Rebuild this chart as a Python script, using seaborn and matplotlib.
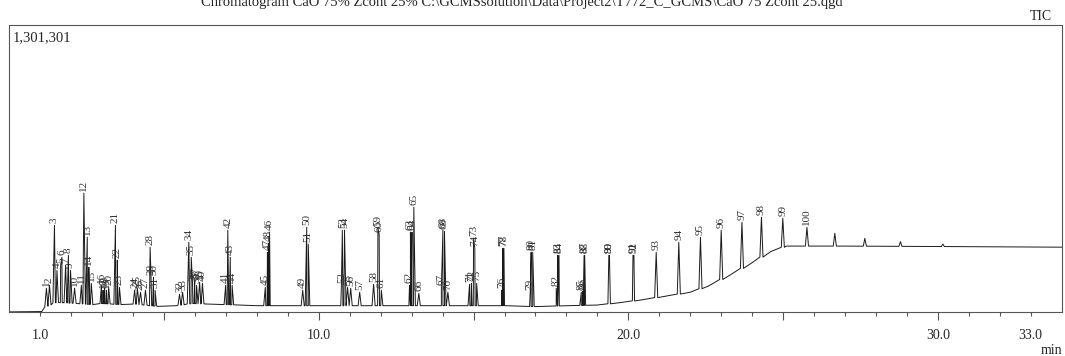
import numpy as np
import pandas as pd
import seaborn as sns
import matplotlib.pyplot as plt

# peak table (retention time in min, intensity in counts)
peak_label = [str(i) for i in range(1, 101)]
peak_time = [1.20, 1.30, 1.46, 1.54, 1.66, 1.70, 1.82, 1.91, 1.98, 2.11,
             2.33, 2.41, 2.52, 2.57, 2.65, 2.98, 3.03, 3.08, 3.14, 3.21,
             3.43, 3.49, 3.56, 4.05, 4.14, 4.24, 4.40, 4.55, 4.58, 4.66,
             4.71, 5.50, 5.60, 5.80, 5.88, 5.92, 5.99, 6.05, 6.15, 6.24,
             6.99, 7.06, 7.14, 7.20, 8.27, 8.41, 8.34, 8.38, 9.48, 9.61,
             9.66, 10.73, 10.76, 10.83, 10.93, 11.03, 11.32, 11.77, 11.91, 11.95,
             12.02, 12.93, 12.96, 13.01, 13.07, 13.23, 13.96, 14.01, 14.06, 14.17,
             14.87, 14.93, 15.00, 15.04, 15.10, 15.91, 15.95, 15.98, 16.83, 16.86,
             16.91, 17.67, 17.72, 17.76, 18.48, 18.53, 18.57, 18.59, 19.37, 19.39,
             20.15, 20.18, 20.90, 21.63, 22.33, 23.00, 23.67, 24.30, 24.99, 25.77]
peak_height = [109000, 122000, 394000, 190000, 213000, 249000, 213000, 258000, 190000, 109000,
               122000, 540000, 340000, 204000, 131000, 122000, 100000, 109000, 100000, 113000,
               394000, 236000, 113000, 100000, 109000, 91000, 100000, 295000, 159000, 159000,
               100000, 82000, 91000, 317000, 249000, 131000, 145000, 122000, 136000, 131000,
               122000, 372000, 249000, 122000, 113000, 363000, 272000, 313000, 100000, 385000,
               308000, 122000, 372000, 372000, 113000, 109000, 91000, 127000, 381000, 354000,
               100000, 122000, 363000, 363000, 476000, 86000, 113000, 372000, 367000, 91000,
               127000, 131000, 336000, 290000, 131000, 100000, 290000, 290000, 91000, 272000,
               272000, 109000, 258000, 258000, 91000, 95000, 258000, 258000, 258000, 258000,
               258000, 258000, 272000, 317000, 340000, 372000, 408000, 431000, 426000, 385000]

# small unlabelled peaks on the late plateau
extra_time = [26.67, 27.64, 28.79, 30.16]
extra_height = [358000, 335000, 320000, 309000]

# baseline under the peaks
base_time = [0.0, 1.05, 1.15, 1.5, 2.2, 2.7, 3.0, 3.6, 4.0, 4.8, 5.4, 5.9, 6.3, 7.0, 8.0,
             9.0, 10.0, 11.0, 12.0, 13.0, 14.0, 15.0, 16.0, 17.0, 18.0, 19.0, 19.8, 20.5,
             21.2, 22.0, 22.6, 23.3, 24.0, 24.6, 25.1, 27.0, 30.0, 34.0]
base_level = [2000, 3500, 25000, 45000, 40000, 35000, 40000, 35000, 38000, 27000, 30000,
              40000, 38000, 35000, 30000, 30000, 30000, 30000, 30000, 30000, 30000, 30000,
              30000, 26000, 30000, 33000, 45000, 58000, 73000, 91000, 120000, 170000,
              225000, 275000, 300000, 300000, 298000, 295000]

y_max = 1301301

# assemble trace vertices
w = 0.05
all_t = peak_time + extra_time
all_h = peak_height + extra_height
pts = []
for bt, bl in zip(base_time, base_level):
    if all(abs(bt - t) > w for t in all_t):
        pts.append((bt, bl))
for t, h in zip(all_t, all_h):
    b = np.interp(t, base_time, base_level)
    pts += [(t - w, b), (t, h), (t + w, b)]
pts.sort(key=lambda p: p[0])
trace = pd.DataFrame(pts, columns=["time", "intensity"])

sns.set_style("white")
plt.rcParams['font.family'] = ['Liberation Serif', 'DejaVu Serif']

fig = plt.figure(figsize=(10.65, 3.56), dpi=100)
ax = fig.add_axes([0.0087, 0.1227, 0.9882, 0.8071])

sns.lineplot(data=trace, x="time", y="intensity", sort=False, estimator=None,
             color="#1a1a1a", linewidth=0.7, ax=ax)

for lbl, t, h in zip(peak_label, peak_time, peak_height):
    ax.annotate(lbl, (t, h), xytext=(0, 1.5), textcoords="offset points",
                rotation=90, ha="center", va="bottom", fontsize=8, color="#333333")

ax.set_xlim(0, 34)
ax.set_ylim(0, y_max)
ax.set_xlabel("")
ax.set_ylabel("")
ax.set_yticks([])

major = [5, 10, 15, 20, 25, 30]
ax.set_xticks(major)
ax.set_xticklabels(["", "10.0", "", "20.0", "", "30.0"])
minor = list(range(1, 34))
ax.set_xticks(minor, minor=True)
ax.set_xticklabels(["1.0" if m == 1 else "33.0" if m == 33 else "" for m in minor], minor=True)
ax.tick_params(axis="x", which="major", direction="out", length=6, width=0.8,
               color="#555555", pad=6, labelsize=10, bottom=True)
ax.tick_params(axis="x", which="minor", direction="out", length=3, width=0.8,
               color="#555555", pad=9, labelsize=10, bottom=True)

for sp in ax.spines.values():
    sp.set_visible(True)
    sp.set_color("#555555")
    sp.set_linewidth(0.8)

fig.text(13 / 1065, 1 - 38 / 356, "1,301,301", fontsize=10.5, va="center", ha="left")
fig.text(1052 / 1065, 1 - 17 / 356, "TIC", fontsize=10, va="center", ha="right")
fig.text(1062 / 1065, 1 - 350 / 356, "min", fontsize=10, va="center", ha="right")
fig.text(522 / 1065, 1 - 6 / 356,
         r"Chromatogram CaO 75% Zcont 25% C:\GCMSsolution\Data\Project2\T772_C_GCMS\CaO 75 Zcont 25.qgd",
         fontsize=10.5, ha="center", va="baseline")

fig.savefig("out.png", dpi=100)
